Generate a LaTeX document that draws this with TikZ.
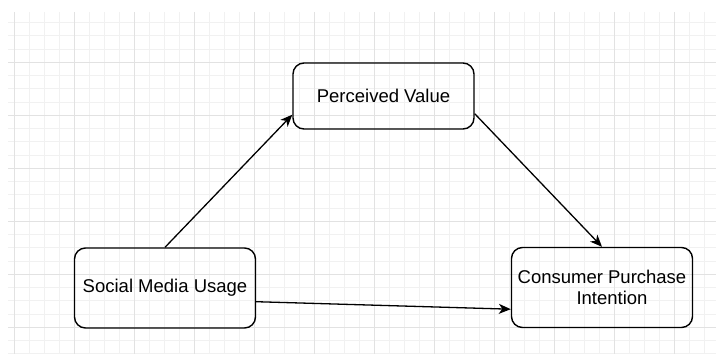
\documentclass[tikz,border=0pt]{standalone}
\usepackage{fontspec}
\setmainfont{Liberation Sans}
\usetikzlibrary{arrows.meta}

\definecolor{gridminor}{HTML}{F1F1F1}
\definecolor{gridmajor}{HTML}{E2E2E2}

\tikzset{
	box/.style = {draw, line width = 1.4pt, rounded corners = 11pt, minimum width = 181pt,
		inner sep = 0pt, align = center, font = \fontsize{18.5}{21}\selectfont},
	link/.style = {line width = 1.3pt, -{Stealth[length = 12pt, width = 10pt, inset = 3.5pt]}}
}

\begin{document}
\begin{tikzpicture}[x = 1pt, y = -1pt]
		\useasboundingbox (0,0) rectangle (716,354);
		% background grid
		\begin{scope}
			\clip (8,12) rectangle (716,354);
			\foreach \x in {14,29,...,719} \draw [gridminor, line width = 0.9pt] (\x,0) -- (\x,354);
			\foreach \y in {9.3,22.55,...,360} \draw [gridminor, line width = 0.9pt] (0,\y) -- (716,\y);
			\foreach \x in {14,74,...,734} \draw [gridmajor, line width = 0.9pt] (\x,0) -- (\x,354);
			\foreach \y in {9.3,62.3,...,360} \draw [gridmajor, line width = 0.9pt] (0,\y) -- (716,\y);
		\end{scope}
		% the three variables
		\node [box, minimum height = 66pt] (value) at (383.5,96) {Perceived Value};
		\node [box, minimum height = 80pt] (usage) at (165,288) {Social Media Usage};
		\node [box, minimum height = 80pt] (intent) at (602,287.5) {Consumer Purchase\\\hspace*{20pt}Intention};
		% paths
		\draw [link] (usage.north) -- ([yshift = 15pt]value.south west);
		\draw [link] ([yshift = 16pt]value.south east) -- (intent.north);
		\draw [link] ([yshift = 27pt]usage.south east) -- ([yshift = 19pt]intent.south west);
	\end{tikzpicture}
\end{document}
